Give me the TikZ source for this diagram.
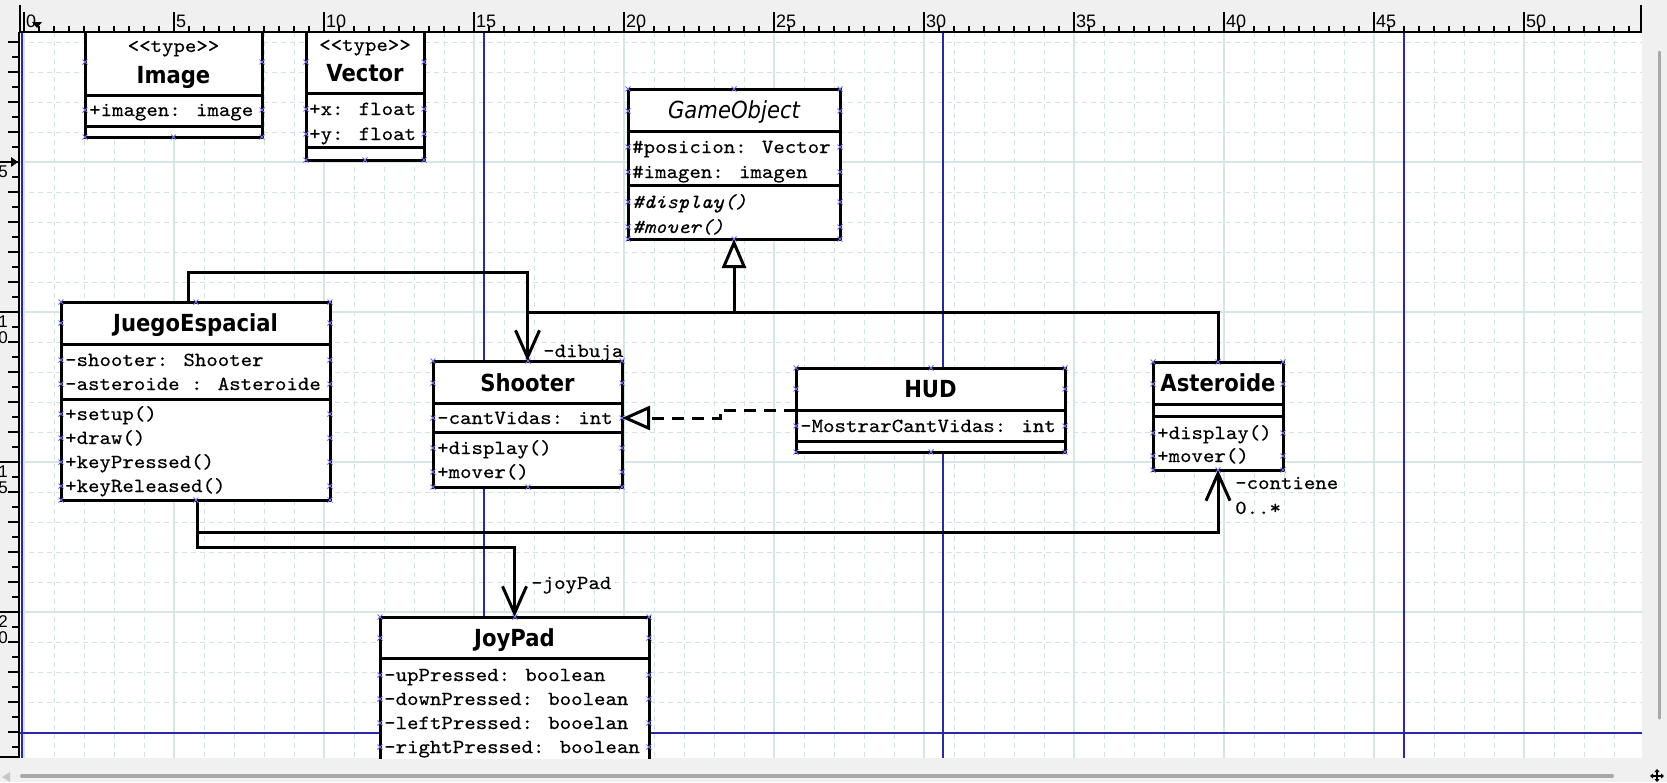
\documentclass[tikz,border=0pt]{standalone}
\usepackage{fontspec}
\usetikzlibrary{arrows.meta,calc}
\newfontfamily\tfont[FakeStretch=0.9]{DejaVu Sans}
\newfontfamily\mfont{lmmono10-regular.otf}[ItalicFont=lmmono10-italic.otf,FakeStretch=1.09,FakeBold=0.4]
\newfontfamily\rfont{Liberation Sans}
\definecolor{uigray}{HTML}{F0F0F0}
\definecolor{gridc}{HTML}{D2E3E3}
\definecolor{gridmaj}{HTML}{D6E5E5}
\definecolor{pageblue}{RGB}{40,40,175}
\definecolor{xmc}{RGB}{110,110,235}
\definecolor{thumbc}{HTML}{A8A8A8}
\tikzset{xm/.pic={\draw[xmc,line width=0.9pt] (-2.5,-2.5) -- (2.5,2.5) (-2.5,2.5) -- (2.5,-2.5);}}
\newcommand\clsmarks[6]{%
  \foreach \xx in {#1,#2,#3}{\pic at (\xx,#4) {xm}; \pic at (\xx,#5) {xm};}
  \foreach \yy in {#6}{\pic at (#1,\yy) {xm}; \pic at (#3,\yy) {xm};}}
\begin{document}
\begin{tikzpicture}[x=1pt,y=-1pt,
  cls/.style={draw=black,line width=3pt,fill=white,rectangle,anchor=north west,inner sep=0pt,outer sep=0pt},
  sepl/.style={line width=3pt},
  conn/.style={line width=3pt},
  ttl/.style={anchor=base,inner sep=0pt,font=\tfont\bfseries\fontsize{23.5}{26}\selectfont},
  ttli/.style={anchor=base,inner sep=0pt,font=\tfont\itshape\fontsize{23.5}{26}\selectfont},
  mono/.style={anchor=base west,inner sep=0pt,font=\mfont\fontsize{20}{22}\selectfont},
  monoc/.style={anchor=base,inner sep=0pt,font=\mfont\fontsize{20}{22}\selectfont},
  barb/.style={-{Straight Barb[length=27pt,width=24pt]}},
  gen/.style={-{Triangle[length=29pt,width=24pt,fill=white]}},
  real/.style={dash pattern=on 12pt off 8pt,-{Triangle[length=28pt,width=24pt,fill=white]}},
  gridminor/.style={gridc,line width=1pt,dash pattern=on 5pt off 4pt},
  gridmajor/.style={gridmaj,line width=1.2pt},
  blueline/.style={pageblue,line width=1.8pt},
  rtick/.style={black,line width=1.2pt},
  rlab/.style={anchor=base west,inner sep=0pt,font=\rfont\fontsize{18}{20}\selectfont},
  rlabl/.style={anchor=center,inner sep=0pt,font=\rfont\fontsize{17}{19}\selectfont},
]
\useasboundingbox (0,0) rectangle (1667,782);
% window background and canvas
\fill[uigray] (0,0) rectangle (1667,782);
\fill[white] (20,32) rectangle (1642,758);
% grid and page lines
\begin{scope}
\clip (20,32) rectangle (1642,758);
\foreach \u in {0,...,54} \draw[gridminor] (24+30*\u,32) -- (24+30*\u,758);
\foreach \v in {1,...,25} \draw[gridminor] (20,12+30*\v) -- (1642,12+30*\v);
\foreach \u in {0,5,...,50} \draw[gridmajor] (24+150*\u/5,32) -- (24+150*\u/5,758);
\foreach \v in {5,10,15,20} \draw[gridmajor] (20,12+30*\v) -- (1642,12+30*\v);
\foreach \px in {22,484,943,1404} \draw[blueline] (\px,32) -- (\px,758);
\draw[blueline] (20,733) -- (1642,733);
\end{scope}
% ================= classes =================
\begin{scope}
\clip (20,32) rectangle (1642,758);
% Image
\node[cls,minimum width=177pt,minimum height=137pt] (image) at (85,0) {};
\draw[sepl] (85,95) -- (262,95) (85,126) -- (262,126);
\node[monoc] (imgst) at (173.5,52) {<<type>>};
\node[ttl] (imgt) at (173.5,83) {Image};
\node[mono] (imga) at (89,116) {+imagen: image};
% Vector
\node[cls,minimum width=118pt,minimum height=160pt] (vector) at (306,0) {};
\draw[sepl] (306,93) -- (424,93) (306,147) -- (424,147);
\node[monoc] (vecst) at (365,51) {<<type>>};
\node[ttl] (vect) at (365,81) {Vector};
\node[mono] (veca1) at (309,115) {+x: float};
\node[mono] (veca2) at (309,140) {+y: float};
% GameObject
\node[cls,minimum width=212pt,minimum height=150pt] (gameobject) at (628,89) {};
\draw[sepl] (628,131) -- (840,131) (628,185) -- (840,185);
\node[ttli] (got) at (734,118) {GameObject};
\node[mono] (goa1) at (632,153) {\#posicion: Vector};
\node[mono] (goa2) at (632,178) {\#imagen: imagen};
\node[mono] (gom1) at (632,208) {\itshape\#display()};
\node[mono] (gom2) at (632,233) {\itshape\#mover()};
% JuegoEspacial
\node[cls,minimum width=269pt,minimum height=198pt] (juego) at (61,302) {};
\draw[sepl] (61,344) -- (330,344) (61,399) -- (330,399);
\node[ttl] (jet) at (195.5,331) {JuegoEspacial};
\node[mono] (jea1) at (65,366) {-shooter: Shooter};
\node[mono] (jea2) at (65,390) {-asteroide : Asteroide};
\node[mono] (jem1) at (65,420) {+setup()};
\node[mono] (jem2) at (65,444) {+draw()};
\node[mono] (jem3) at (65,468) {+keyPressed()};
\node[mono] (jem4) at (65,492) {+keyReleased()};
% Shooter
\node[cls,minimum width=189pt,minimum height=126pt] (shooter) at (433,361) {};
\draw[sepl] (433,403) -- (622,403) (433,432) -- (622,432);
\node[ttl] (sht) at (527.5,391) {Shooter};
\node[mono] (sha1) at (437,424) {-cantVidas: int};
\node[mono] (shm1) at (437,454) {+display()};
\node[mono] (shm2) at (437,478) {+mover()};
% HUD
\node[cls,minimum width=269pt,minimum height=84pt] (hud) at (796,368) {};
\draw[sepl] (796,410) -- (1065,410) (796,441) -- (1065,441);
\node[ttl] (hudt) at (930.5,397) {HUD};
\node[mono] (huda1) at (800,432) {-MostrarCantVidas: int};
% Asteroide
\node[cls,minimum width=130pt,minimum height=108pt] (asteroide) at (1153,362) {};
\draw[sepl] (1153,404) -- (1283,404) (1153,416) -- (1283,416);
\node[ttl] (ast) at (1218,391) {Asteroide};
\node[mono] (asm1) at (1157,439) {+display()};
\node[mono] (asm2) at (1157,462) {+mover()};
% JoyPad
\node[cls,minimum width=269pt,minimum height=183pt] (joypad) at (380,617) {};
\draw[sepl] (380,658) -- (649,658);
\node[ttl] (jpt) at (514.5,646) {JoyPad};
\node[mono] (jpa1) at (384,681) {-upPressed: boolean};
\node[mono] (jpa2) at (384,705) {-downPressed: boolean};
\node[mono] (jpa3) at (384,729) {-leftPressed: booelan};
\node[mono] (jpa4) at (384,753) {-rightPressed: boolean};
% ================= connectors =================
\coordinate (jt) at (188,272);
\draw[conn,barb] (jt |- juego.north) -- (jt) -| (shooter.north);
\node[mono] (ldib) at (543,357) {-dibuja};
\coordinate (gt) at (734,312);
\draw[conn] (shooter.north) |- (gt) -| (asteroide.north);
\draw[conn,gen] (gt) -- (gameobject.south);
\coordinate (r1) at (720,410);
\coordinate (r2) at (720,418);
\draw[conn,real] (hud.west) -- (r1) -- (r2) -- (r2 -| shooter.east);
\coordinate (jb) at (197,532);
\coordinate (jb2) at (197,547);
\draw[conn,barb] (jb |- juego.south) -- (jb2) -| (joypad.north);
\draw[conn,barb] (jb) -| (asteroide.south);
\node[mono] (ljoy) at (531,589) {-joyPad};
\node[mono] (lcont) at (1235,489) {-contiene};
\node[mono] (lmult) at (1235,514) {0..*};
% connection point marks
\clsmarks{85}{173.5}{262}{10}{137}{62,110}
\clsmarks{306}{365}{424}{10}{160}{62,109,134}
\clsmarks{628}{734}{840}{89}{239}{111,147,172,202,227}
\clsmarks{61}{196}{330}{302}{500}{323,360,384,414,438,462,486}
\clsmarks{433}{528}{622}{361}{487}{383,418,448,472}
\clsmarks{796}{931}{1065}{368}{452}{389,426}
\clsmarks{1153}{1218}{1283}{362}{470}{384,433,456}
\clsmarks{380}{515}{649}{617}{800}{638,675,699,723,747}
\end{scope}
% ================= rulers =================
\draw[black,line width=2pt] (20,32) -- (1642,32);
\draw[black,line width=1.2pt] (20,5) -- (20,32) (1641,5) -- (1641,32);
\draw[black,line width=2pt] (19,32) -- (19,758);
\draw[black,line width=1.2pt] (0,757) -- (19,757);
\foreach \k in {0,...,107} \draw[rtick] (24+15*\k,26) -- (24+15*\k,32);
\foreach \m in {0,...,10} {
  \draw[rtick] (24+150*\m,12) -- (24+150*\m,32);
  \node[rlab] (tl\m) at (26+150*\m,27) {\the\numexpr5*\m\relax};
}
\foreach \k in {2,...,49} {
  \ifodd\k\relax \draw[rtick] (12,12+15*\k) -- (19,12+15*\k);
  \else \draw[rtick] (8,12+15*\k) -- (19,12+15*\k); \fi
}
\foreach \m in {1,...,4} \draw[rtick] (0,12+150*\m) -- (19,12+150*\m);
\node[rlabl] (ll5) at (3,171.5) {5};
\node[rlabl] (ll10a) at (3,321.5) {1};
\node[rlabl] (ll10b) at (3,337.5) {0};
\node[rlabl] (ll15a) at (3,471.5) {1};
\node[rlabl] (ll15b) at (3,487.5) {5};
\node[rlabl] (ll20a) at (3,621.5) {2};
\node[rlabl] (ll20b) at (3,637.5) {0};
\fill[black] (32,22) -- (42,22) -- (37,28) -- cycle;
\fill[black] (11,157) -- (11,167) -- (18,162) -- cycle;
% ================= scrollbars =================
\draw[thumbc,line width=4pt,line cap=round] (22,776) -- (1612,776);
\fill[black!22] (2,777) -- (10,772) -- (10,782) -- cycle;
\draw[thumbc,line width=3pt,line cap=round] (1659,52) -- (1659,718);
\draw[black,line width=1.6pt,{Triangle[length=3pt,width=5pt]}-{Triangle[length=3pt,width=5pt]}] (1650,776) -- (1664,776);
\draw[black,line width=1.6pt,{Triangle[length=3pt,width=5pt]}-{Triangle[length=3pt,width=5pt]}] (1657,769) -- (1657,782);
\end{tikzpicture}
\end{document}
